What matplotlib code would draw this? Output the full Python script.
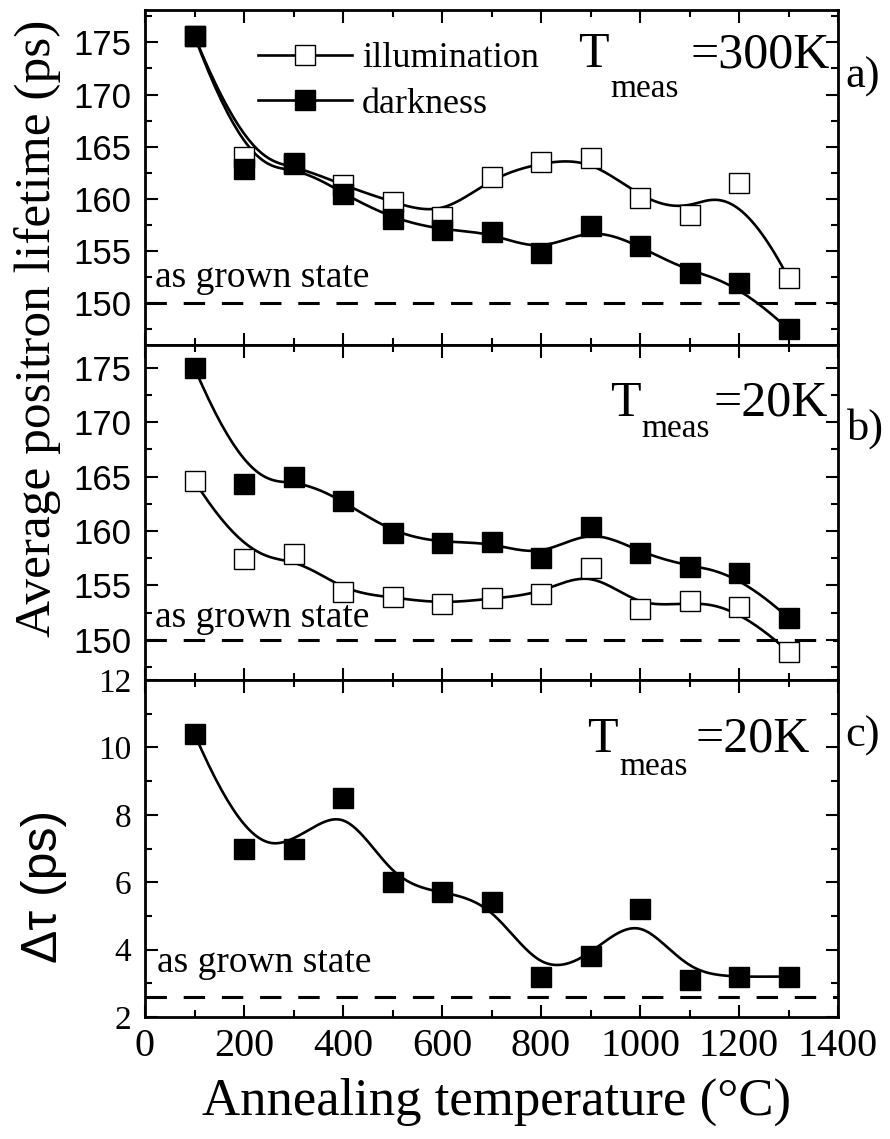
import numpy as np
import matplotlib.pyplot as plt
from matplotlib.ticker import MultipleLocator

plt.rcParams['font.family'] = 'Liberation Serif'

# data
temps = [100, 200, 300, 400, 500, 600, 700, 800, 900, 1000, 1100, 1200, 1300]
a_illum = [175.6, 164.0, 163.3, 161.3, 159.7, 158.3, 162.1, 163.5, 163.9, 160.1, 158.5, 161.5, 152.4]
a_dark = [175.6, 162.9, 163.4, 160.5, 158.1, 157.0, 156.8, 154.8, 157.4, 155.5, 152.9, 151.9, 147.5]
b_illum = [164.6, 157.4, 157.9, 154.4, 153.9, 153.3, 153.8, 154.2, 156.6, 152.8, 153.6, 153.0, 148.9]
b_dark = [175.0, 164.3, 165.0, 162.8, 159.8, 158.9, 159.0, 157.5, 160.4, 158.0, 156.7, 156.1, 152.0]
c_delta = [10.4, 7.0, 7.0, 8.5, 6.0, 5.7, 5.4, 3.2, 3.8, 5.2, 3.1, 3.2, 3.2]
as_grown = [150.0, 150.0, 2.6]
t_meas = ['=300K', '=20K', '=20K']
panel_tags = ['a)', 'b)', 'c)']


def bspline(px, py, num=400, k=3):
    # clamped cubic B-spline with the points as control points (Origin "B-spline" line)
    px = np.asarray(px, float)
    py = np.asarray(py, float)
    n = len(px)
    t = np.concatenate([np.zeros(k), np.linspace(0, 1, n - k + 1), np.ones(k)])
    u = np.linspace(0, 1, num)
    B = np.zeros((num, len(t) - 1))
    for i in range(len(t) - 1):
        B[:, i] = (t[i] <= u) & (u < t[i + 1])
    B[-1, n - 1] = 1.0
    for d in range(1, k + 1):
        Bn = np.zeros((num, len(t) - 1 - d))
        for i in range(len(t) - 1 - d):
            a = t[i + d] - t[i]
            b = t[i + d + 1] - t[i + 1]
            term = np.zeros(num)
            if a > 0:
                term += (u - t[i]) / a * B[:, i]
            if b > 0:
                term += (t[i + d + 1] - u) / b * B[:, i + 1]
            Bn[:, i] = term
        B = Bn
    return B @ px, B @ py


W, H = 890, 1139
fig = plt.figure(figsize=(W / 100, H / 100), dpi=100)

def px2fig(x, y):
    return x / W, 1 - y / H

left, right = 145, 838
tops = [10, 345, 680]
bots = [345, 680, 1017]
axes = []
for tp, bt in zip(tops, bots):
    ax = fig.add_axes([left / W, 1 - bt / H, (right - left) / W, (bt - tp) / H])
    axes.append(ax)

ms = 14
lw = 1.9
for i, ax in enumerate(axes):
    ax.set_xlim(0, 1400)
    ax.xaxis.set_major_locator(MultipleLocator(200))
    ax.xaxis.set_minor_locator(MultipleLocator(100))
    ax.tick_params(which='both', direction='in', top=True, right=True, width=1.5)
    ax.tick_params(which='major', length=9)
    ax.tick_params(which='minor', length=5)
    for s in ax.spines.values():
        s.set_linewidth(2.0)
    ax.axhline(as_grown[i], color='black', lw=2.2, dashes=(7, 5.5), zorder=1)

# panel a
ax = axes[0]
ax.set_ylim(146, 178.1)
for yv, face, lab in [(a_illum, 'white', 'illumination'), (a_dark, 'black', 'darkness')]:
    sx, sy = bspline(temps, yv)
    ax.plot(sx, sy, color='black', lw=lw, zorder=2)
    ax.plot(temps, yv, 's', ms=ms, mfc=face, mec='black', mew=1.0, zorder=3)
    ax.plot([], [], '-s', color='black', lw=lw, ms=ms, mfc=face, mec='black', mew=1.0, label=lab)

# panel b
ax = axes[1]
ax.set_ylim(146.3, 177.1)
for yv, face in [(b_illum, 'white'), (b_dark, 'black')]:
    sx, sy = bspline(temps, yv)
    ax.plot(sx, sy, color='black', lw=lw, zorder=2)
    ax.plot(temps, yv, 's', ms=ms, mfc=face, mec='black', mew=1.0, zorder=3)

# panel c
ax = axes[2]
ax.set_ylim(2, 12)
sx, sy = bspline(temps, c_delta)
ax.plot(sx, sy, color='black', lw=lw, zorder=2)
ax.plot(temps, c_delta, 's', ms=ms, mfc='black', mec='black', zorder=3)

for ax in axes[:2]:
    ax.set_yticks([150, 155, 160, 165, 170, 175])
    ax.yaxis.set_minor_locator(MultipleLocator(2.5))
    ax.tick_params(axis='y', labelsize=25, pad=10, labelfontfamily='Liberation Sans')
    ax.tick_params(axis='x', labelbottom=False)
axes[2].yaxis.set_major_locator(MultipleLocator(2))
axes[2].yaxis.set_minor_locator(MultipleLocator(1))
axes[2].tick_params(axis='y', labelsize=24, pad=10, labelfontfamily='Liberation Serif')
axes[2].tick_params(axis='x', labelsize=29, pad=8, labelfontfamily='Liberation Serif')

# "as grown state" labels
grown_pos = [(155, 287), (155, 627), (157, 972)]
for gx, gy in grown_pos:
    fig.text(*px2fig(gx, gy), 'as grown state', fontsize=27, va='baseline', ha='left')

# legend
leg = axes[0].legend(loc='upper left',
                     bbox_to_anchor=((258 - left) / (right - left), 1 - (42 - 10) / 335),
                     frameon=False, fontsize=26, handlelength=2.6, handletextpad=0.28,
                     labelspacing=0.34, borderpad=0, borderaxespad=0)

# T_meas annotations
tm_pos = [((578, 67), (610, 97), (830, 67)),
          ((610, 416), (641, 437), (828, 416)),
          ((587, 752), (619, 775), (810, 752))]
for (tpos, spos, epos), txt in zip(tm_pos, t_meas):
    fig.text(*px2fig(*tpos), 'T', fontsize=36, va='baseline', ha='left')
    fig.text(*px2fig(*spos), 'meas', fontsize=24, va='baseline', ha='left')
    fig.text(*px2fig(*epos), txt, fontsize=36, va='baseline', ha='right')

tag_pos = [(845, 88), (847, 440), (845, 747)]
for (tx, ty), tag in zip(tag_pos, panel_tags):
    fig.text(*px2fig(tx, ty), tag, fontsize=32, va='baseline', ha='left')

fig.text(*px2fig(38, 328), 'Average positron lifetime (ps)', fontsize=37,
         rotation=90, ha='center', va='center')
fig.text(*px2fig(44, 886), 'Δτ (ps)', fontsize=36, family='Liberation Sans',
         rotation=90, ha='center', va='center')
fig.text(*px2fig(497, 1115), 'Annealing temperature (°C)', fontsize=38,
         ha='center', va='baseline')

fig.savefig('out.png', dpi=100)
